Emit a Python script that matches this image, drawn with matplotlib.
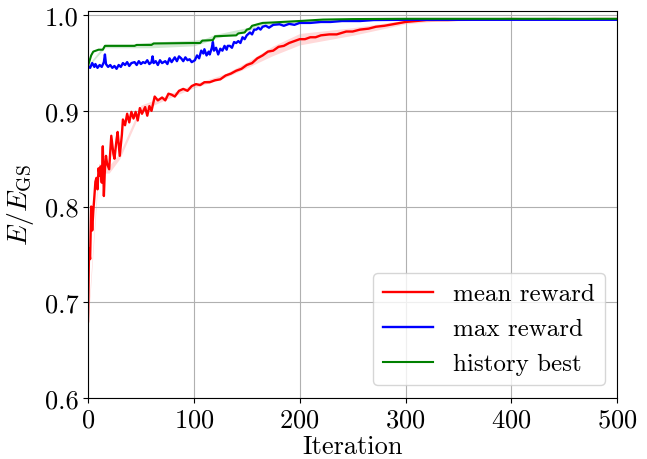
import matplotlib
matplotlib.use('Agg')
import matplotlib.pyplot as plt
import numpy as np


plt.rcParams['font.family'] = 'serif'
plt.rcParams['font.serif'] = ['cmr10']
plt.rcParams['mathtext.fontset'] = 'cm'
plt.rcParams['axes.unicode_minus'] = False
plt.rcParams['axes.formatter.use_mathtext'] = True

FONT_SIZE = 19

# mean reward
mean_iters = [0, 1, 2, 3, 4, 5, 6, 7, 8, 9, 10, 11, 12, 13, 14, 15, 16, 17,
              18, 20, 22, 24, 25, 27, 28, 30, 32, 33, 35, 37, 39, 41, 43, 45,
              47, 49, 51, 54, 56, 58, 60, 63, 66, 70, 73, 76, 79, 82, 86, 90,
              94, 98, 102, 106, 110, 115, 120, 125, 130, 135, 140, 145, 150,
              155, 160, 165, 170, 175, 180, 185, 190, 195, 200, 205, 210, 215,
              220, 228, 235, 244, 250, 257, 265, 272, 280, 290, 300, 310, 320,
              340, 360, 380, 400, 420, 440, 460, 480, 500]
mean_reward = [0.680, 0.756, 0.745, 0.800, 0.775, 0.795, 0.810, 0.826, 0.830,
               0.818, 0.840, 0.832, 0.842, 0.825, 0.863, 0.811, 0.840, 0.853,
               0.845, 0.839, 0.874, 0.855, 0.850, 0.870, 0.878, 0.853, 0.875,
               0.891, 0.885, 0.897, 0.888, 0.899, 0.892, 0.899, 0.890, 0.903,
               0.897, 0.904, 0.895, 0.905, 0.900, 0.915, 0.911, 0.914, 0.911,
               0.918, 0.917, 0.915, 0.921, 0.923, 0.921, 0.926, 0.928, 0.927,
               0.930, 0.930, 0.932, 0.933, 0.937, 0.939, 0.942, 0.944, 0.948,
               0.950, 0.955, 0.958, 0.962, 0.963, 0.967, 0.968, 0.971, 0.973,
               0.975, 0.975, 0.977, 0.977, 0.979, 0.980, 0.980, 0.983, 0.983,
               0.985, 0.986, 0.988, 0.989, 0.991, 0.993, 0.994, 0.995, 0.995,
               0.9955, 0.9958, 0.996, 0.9958, 0.996, 0.9958, 0.996, 0.996]

# spread of mean reward
mean_band_iters = [0, 10, 20, 30, 50, 80, 100, 130, 150, 175, 200, 225, 250,
                   275, 300, 330, 360, 500]
mean_band = [0.004, 0.005, 0.004, 0.003, 0.003, 0.002, 0.002, 0.002, 0.003,
             0.005, 0.006, 0.005, 0.004, 0.003, 0.002, 0.001, 0.001, 0.001]

# max reward
max_iters = [0, 2, 4, 6, 7, 9, 11, 13, 15, 16, 17, 19, 21, 23, 25, 27, 29, 31,
             33, 35, 37, 39, 41, 44, 46, 48, 50, 52, 54, 56, 58, 60, 61, 62,
             64, 66, 68, 70, 73, 75, 77, 79, 82, 84, 86, 88, 90, 92, 94, 96,
             98, 101, 103, 105, 107, 109, 110, 112, 114, 115, 117, 118, 119,
             121, 123, 125, 127, 129, 131, 132, 134, 136, 138, 140, 142, 144,
             146, 148, 150, 151, 153, 155, 157, 159, 161, 163, 165, 168, 171,
             175, 181, 185, 190, 195, 200, 210, 220, 229, 240, 257, 270, 300,
             330, 360, 400, 440, 470, 500]
max_reward = [0.947, 0.945, 0.950, 0.946, 0.949, 0.945, 0.948, 0.946, 0.951,
              0.959, 0.949, 0.946, 0.948, 0.945, 0.947, 0.944, 0.948, 0.946,
              0.950, 0.948, 0.951, 0.947, 0.950, 0.951, 0.948, 0.952, 0.949,
              0.951, 0.950, 0.953, 0.949, 0.951, 0.957, 0.950, 0.952, 0.948,
              0.953, 0.950, 0.952, 0.949, 0.955, 0.951, 0.956, 0.952, 0.957,
              0.955, 0.952, 0.956, 0.953, 0.954, 0.951, 0.953, 0.958, 0.955,
              0.963, 0.960, 0.9645, 0.958, 0.962, 0.959, 0.966, 0.972, 0.963,
              0.966, 0.959, 0.965, 0.963, 0.968, 0.964, 0.968, 0.968, 0.966,
              0.972, 0.971, 0.973, 0.971, 0.977, 0.975, 0.979, 0.980, 0.982,
              0.980, 0.985, 0.985, 0.987, 0.985, 0.988, 0.989, 0.987, 0.990,
              0.9906, 0.989, 0.991, 0.990, 0.992, 0.992, 0.993, 0.993, 0.994,
              0.994, 0.995, 0.9953, 0.9953, 0.9953, 0.9953, 0.9953, 0.9953,
              0.9953]

# history best
best_iters = [0, 3, 5, 10, 14, 16, 44, 46, 60, 62, 100, 106, 108, 118, 120,
              140, 142, 148, 150, 153, 155, 160, 165, 175, 200, 222, 250, 300,
              500]
history_best = [0.947, 0.958, 0.962, 0.964, 0.964, 0.968, 0.968, 0.969,
                0.969, 0.9705, 0.971, 0.971, 0.9735, 0.974, 0.978, 0.979,
                0.981, 0.982, 0.985, 0.986, 0.989, 0.9905, 0.992, 0.9925,
                0.994, 0.9955, 0.996, 0.9963, 0.9963]
best_band_iters = [0, 16, 45, 60, 100, 110, 120, 150, 160, 200, 300, 500]
best_band = [0.001, 0.002, 0.002, 0.003, 0.003, 0.002, 0.002, 0.002, 0.002,
             0.001, 0.0005, 0.0005]


def _band(iters, band_iters, band, values):
    # centre of the band at the band knots, taken from the plotted series
    centre = np.array([values[iters.index(i)] if i in iters else
                       values[np.searchsorted(iters, i) - 1] for i in band_iters])
    return centre - np.array(band), centre + np.array(band)


fig = plt.figure(figsize=(6.47, 4.60), dpi=100)
ax = fig.add_axes([0.136, 0.133, 0.818, 0.841])

lo, hi = _band(mean_iters, mean_band_iters, mean_band, mean_reward)
ax.fill_between(mean_band_iters, lo, hi, color='r', alpha=0.15, lw=0)
lo, hi = _band(best_iters, best_band_iters, best_band, history_best)
ax.fill_between(best_band_iters, lo, hi, color='g', alpha=0.18, lw=0)

ax.plot(mean_iters, mean_reward, 'r-', lw=1.7, label='mean reward')
ax.plot(max_iters, max_reward, 'b-', lw=1.7, label='max reward')
ax.plot(best_iters, history_best, 'g-', lw=1.5, label='history best')

ax.set_xlim(0, 500)
ax.set_ylim(0.6, 1.0045)
ax.set_xticks([0, 100, 200, 300, 400, 500])
ax.set_yticks([0.6, 0.7, 0.8, 0.9, 1.0])
ax.set_yticklabels(['0.6', '0.7', '0.8', '0.9', '1.0'])
ax.tick_params(labelsize=FONT_SIZE)
ax.set_xlabel('Iteration', fontsize=FONT_SIZE, labelpad=2)
ax.set_ylabel(r'$E/E_{\mathrm{GS}}$', fontsize=FONT_SIZE + 1, labelpad=6)
ax.grid(True)
ax.legend(loc='lower right', fontsize=FONT_SIZE - 1)

fig.savefig('out.png', dpi=100)
